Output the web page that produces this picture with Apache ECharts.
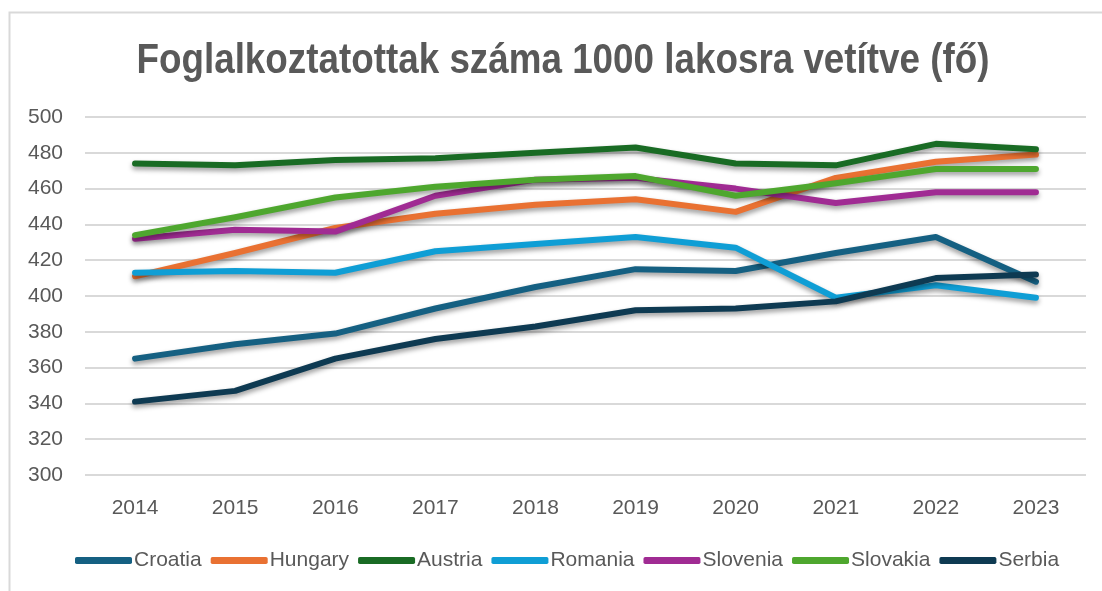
<!DOCTYPE html>
<html>
<head>
<meta charset="utf-8">
<script src="https://cdn.jsdelivr.net/npm/echarts@6/dist/echarts.min.js"></script>
<style>
  html, body { margin: 0; padding: 0; background: #fff; }
  #chart { width: 1102px; height: 591px; }
</style>
</head>
<body>
<div id="chart"></div>
<script>
const years = ['2014', '2015', '2016', '2017', '2018', '2019', '2020', '2021', '2022', '2023'];

const croatia  = [365, 373, 379, 393, 405, 415, 414, 424, 433, 408];
const hungary  = [411, 424, 438, 446, 451, 454, 447, 466, 475, 479];
const austria  = [474, 473, 476, 477, 480, 483, 474, 473, 485, 482];
const romania  = [413, 414, 413, 425, 429, 433, 427, 399, 406, 399];
const slovenia = [432, 437, 436, 456, 465, 466, 460, 452, 458, 458];
const slovakia = [434, 444, 455, 461, 465, 467, 456, 463, 471, 471];
const serbia   = [341, 347, 365, 376, 383, 392, 393, 397, 410, 412];

const seriesDefs = [
  ['Croatia', croatia, '#156082'],
  ['Hungary', hungary, '#E97132'],
  ['Austria', austria, '#196B24'],
  ['Romania', romania, '#0F9ED5'],
  ['Slovenia', slovenia, '#A02B93'],
  ['Slovakia', slovakia, '#4EA72E'],
  ['Serbia', serbia, '#0E3A52'],
];

const titleText = 'Foglalkoztatottak száma 1000 lakosra vetítve (fő)';
const titleFont = "bold 42px 'Liberation Sans', Arial, sans-serif";
const sans = "'Liberation Sans', Arial, sans-serif";

// squeeze the title horizontally to mimic the narrow typeface of the original
const measureCtx = document.createElement('canvas').getContext('2d');
measureCtx.font = titleFont;
const titleScale = 853 / measureCtx.measureText(titleText).width;

const chart = echarts.init(document.getElementById('chart'), null, { renderer: 'canvas' });

chart.setOption({
  backgroundColor: '#fff',
  animation: false,
  graphic: [
    {
      type: 'rect',
      shape: { x: 9.5, y: 12.5, width: 1110, height: 600 },
      style: { fill: 'none', stroke: '#d9d9d9', lineWidth: 2 },
      silent: true,
    },
    {
      type: 'text',
      x: 563,
      y: 61,
      scaleX: titleScale,
      style: {
        text: titleText,
        font: titleFont,
        fill: '#595959',
        align: 'center',
        verticalAlign: 'middle',
      },
      silent: true,
    },
  ],
  legend: {
    bottom: 15,
    left: 70,
    itemWidth: 57,
    itemHeight: 7,
    itemGap: 9,
    icon: 'roundRect',
    textStyle: { fontFamily: sans, fontSize: 21, color: '#595959', padding: [0, 0, 0, -3] },
    data: seriesDefs.map(d => d[0]),
  },
  grid: { left: 85, right: 16, top: 117, bottom: 116 },
  xAxis: {
    type: 'category',
    data: years,
    boundaryGap: true,
    axisLine: { show: false },
    axisTick: { show: false },
    axisLabel: { color: '#595959', fontSize: 21, fontFamily: sans, margin: 23 },
  },
  yAxis: {
    type: 'value',
    min: 300,
    max: 500,
    interval: 20,
    axisLine: { show: false },
    axisTick: { show: false },
    axisLabel: { color: '#595959', fontSize: 21, fontFamily: sans, margin: 22 },
    splitLine: { lineStyle: { color: '#d9d9d9', width: 2 } },
  },
  series: seriesDefs.map(([name, data, color]) => ({
    name,
    type: 'line',
    data,
    color,
    symbol: 'none',
    lineStyle: {
      width: 6,
      cap: 'round',
      join: 'round',
      shadowColor: 'rgba(0,0,0,0.4)',
      shadowBlur: 5,
      shadowOffsetY: 3,
    },
  })),
});
</script>
</body>
</html>
